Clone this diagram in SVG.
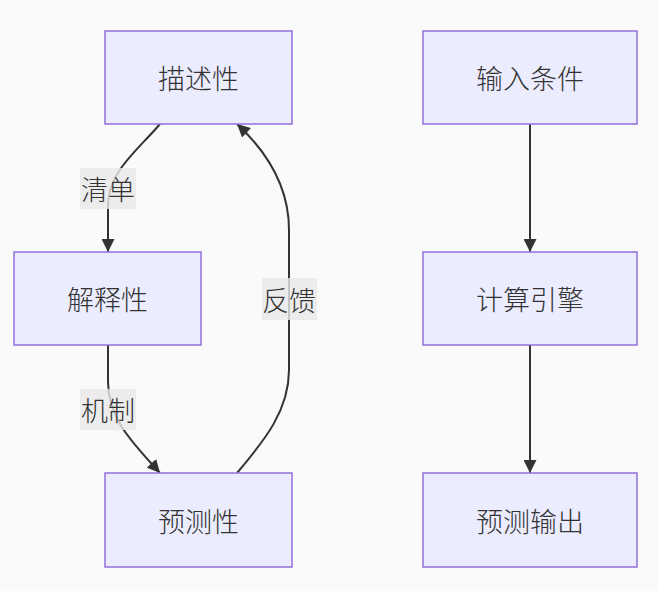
<svg xmlns="http://www.w3.org/2000/svg" width="659" height="591" viewBox="0 0 659 591">
<style>
.node rect{fill:#ececff;stroke:#9370db;stroke-width:1.5}
text{font-family:"Noto Sans CJK SC","Noto Sans",sans-serif;font-size:27px;font-weight:300;fill:#333;text-anchor:middle;dominant-baseline:central}
.edge{fill:none;stroke:#333;stroke-width:2}
.lbl rect{fill:#e8e8e8;opacity:0.8}
</style>
<defs>
<marker id="arr" viewBox="0 0 10 10" refX="10" refY="5" markerWidth="13" markerHeight="13" markerUnits="userSpaceOnUse" orient="auto">
<path d="M0,0 L10,5 L0,10 z" fill="#333"/>
</marker>
</defs>
<rect width="659" height="591" fill="#fafafa"/>
<g id="connectors">
<path class="edge" d="M160,124 C138,150 108,172 108,205 L108,252" marker-end="url(#arr)"/>
<path class="edge" d="M108,345 L108,382 C108,420 135,445 160,473" marker-end="url(#arr)"/>
<path class="edge" d="M237,473 C265,440 289,410 289,370 L289,230 C289,185 265,150 237,124" marker-end="url(#arr)"/>
<path class="edge" d="M530,124 L530,252" marker-end="url(#arr)"/>
<path class="edge" d="M530,345 L530,473" marker-end="url(#arr)"/>
</g>
<g id="edge-labels">
<g class="lbl"><rect x="80" y="168" width="56" height="41"/><text x="108" y="188">清单</text></g>
<g class="lbl"><rect x="80" y="389" width="56" height="41"/><text x="108" y="409">机制</text></g>
<g class="lbl"><rect x="262" y="278" width="55" height="42"/><text x="289" y="299">反馈</text></g>
</g>
<g id="n1" class="node"><rect x="105" y="31" width="187" height="93"/><text x="198.5" y="77">描述性</text></g>
<g id="n2" class="node"><rect x="14" y="252" width="187" height="93"/><text x="107.5" y="298">解释性</text></g>
<g id="n3" class="node"><rect x="105" y="473" width="187" height="94"/><text x="198.5" y="520">预测性</text></g>
<g id="n4" class="node"><rect x="423" y="31" width="214" height="93"/><text x="530" y="77">输入条件</text></g>
<g id="n5" class="node"><rect x="423" y="252" width="214" height="93"/><text x="530" y="298">计算引擎</text></g>
<g id="n6" class="node"><rect x="423" y="473" width="214" height="94"/><text x="530" y="520">预测输出</text></g>
</svg>
